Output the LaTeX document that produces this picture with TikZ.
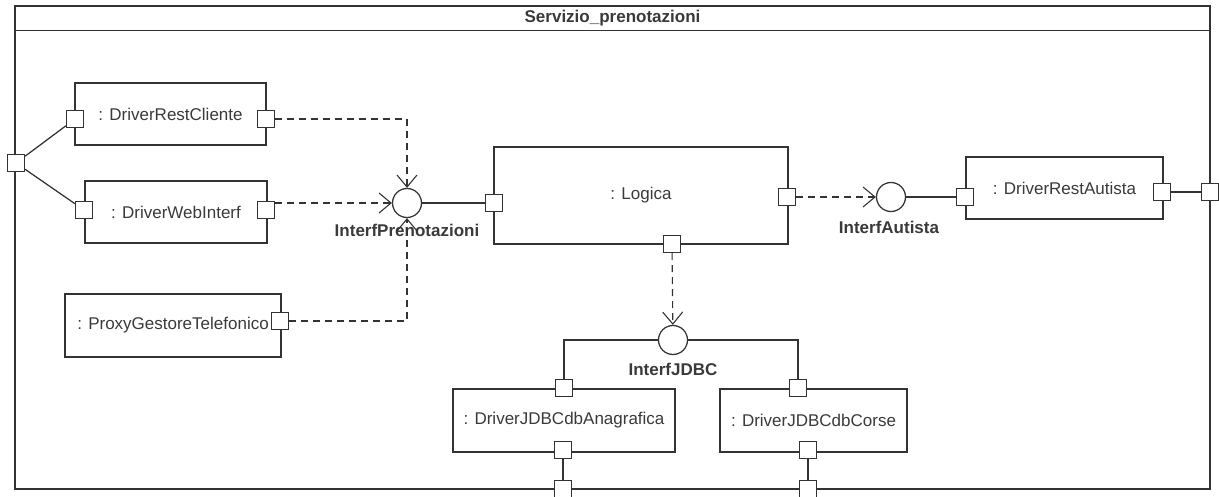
\documentclass[tikz,border=0pt]{standalone}
\usepackage{fontspec}
\setmainfont{Liberation Sans}
\usepackage{tikz}
\usetikzlibrary{arrows.meta, positioning}

\definecolor{umlline}{HTML}{333333}
\definecolor{umltext}{HTML}{3A3A3A}

\begin{document}
\begin{tikzpicture}[x=1pt, y=-1pt, line width=1.25pt, draw=umlline, text=umltext,
    every node/.style={font=\fontsize{17}{20}\selectfont},
    comp/.style={draw, rectangle, inner sep=0pt},
    port/.style={draw, rectangle, fill=white, minimum size=17pt, inner sep=0pt},
    iface/.style={draw, circle, minimum size=29pt, inner sep=0pt},
    ifname/.style={font=\fontsize{17}{20}\selectfont\bfseries},
    dep/.style={dashed, line width=1.1pt, dash pattern=on 7pt off 5pt, -{Straight Barb[length=12pt, width=20pt]}}]
    \useasboundingbox (0,0) rectangle (1219,497);

    % Frame of the structured class
    \node [draw, rectangle, line width=1.5pt, minimum width=1195pt, minimum height=483pt] (frame) at (612.5,247.5) {};
    \draw [line width=1.3pt] (frame.north west) ++(0,25) coordinate (tl) -- (tl -| frame.east);
    \node [ifname] (title) at (612.5,18) {Servizio\_prenotazioni};

    % Parts
    \node [comp, minimum width=191pt, minimum height=62pt] (rc) at (170.5,114) {: DriverRestCliente};
    \node [comp, minimum width=182pt, minimum height=62pt] (wi) at (176,212) {: DriverWebInterf};
    \node [comp, minimum width=216pt, minimum height=63pt] (pg) at (173,325.5) {: ProxyGestoreTelefonico\hspace{12pt}};
    \node [comp, minimum width=294pt, minimum height=97pt] (lg) at (641,195.5) {: Logica};
    \node [comp, minimum width=197pt, minimum height=62pt] (ra) at (1064.5,188) {: DriverRestAutista};
    \node [comp, minimum width=222pt, minimum height=63pt] (an) at (564,420.5) {: DriverJDBCdbAnagrafica};
    \node [comp, minimum width=187pt, minimum height=63pt] (co) at (813.5,420.5) {: DriverJDBCdbCorse};

    % Ports
    \node [port] (fl) at (16,163) {};
    \node [port] (fr) at (1210,192) {};
    \node [port] (fb1) at (563,489) {};
    \node [port] (fb2) at (808,489) {};
    \node [port] (rc-l) at (75,119) {};
    \node [port] (rc-r) at (266,119) {};
    \node [port] (wi-l) at (84,210) {};
    \node [port] (wi-r) at (266,210) {};
    \node [port] (pg-r) at (280,321) {};
    \node [port] (lg-l) at (494,203) {};
    \node [port] (lg-r) at (787,197) {};
    \node [port] (lg-b) at (672,244) {};
    \node [port] (ra-l) at (965,197) {};
    \node [port] (ra-r) at (1162,192) {};
    \node [port] (an-t) at (564,388) {};
    \node [port] (an-b) at (563,450) {};
    \node [port] (co-t) at (798,388) {};
    \node [port] (co-b) at (808,450) {};

    % Interfaces
    \node [iface] (ip) at (407,203) {};
    \node [iface] (ia) at (891,197) {};
    \node [iface] (ij) at (673,340) {};
    \node [ifname] at (407,230) {InterfPrenotazioni};
    \node [ifname] at (889,227) {InterfAutista};
    \node [ifname] at (673,369) {InterfJDBC};

    % Assembly and delegation connectors
    \draw (fl) -- (rc-l) (fl) -- (wi-l);
    \draw (ip) -- (lg-l) (ia) -- (ra-l) (ra-r) -- (fr);
    \draw (ij.west) -| (an-t) (ij.east) -| (co-t);
    \draw (an-b) -- (fb1) (co-b) -- (fb2);

    % Dependencies on the interfaces
    \draw [dep] (rc-r) -| (ip);
    \draw [dep] (wi-r.east |- ip) -- (ip);
    \draw [dep] (pg-r) -| (ip);
    \draw [dep] (lg-r) -- (ia);
    \draw [dep] (lg-b) -- (ij);
\end{tikzpicture}
\end{document}
